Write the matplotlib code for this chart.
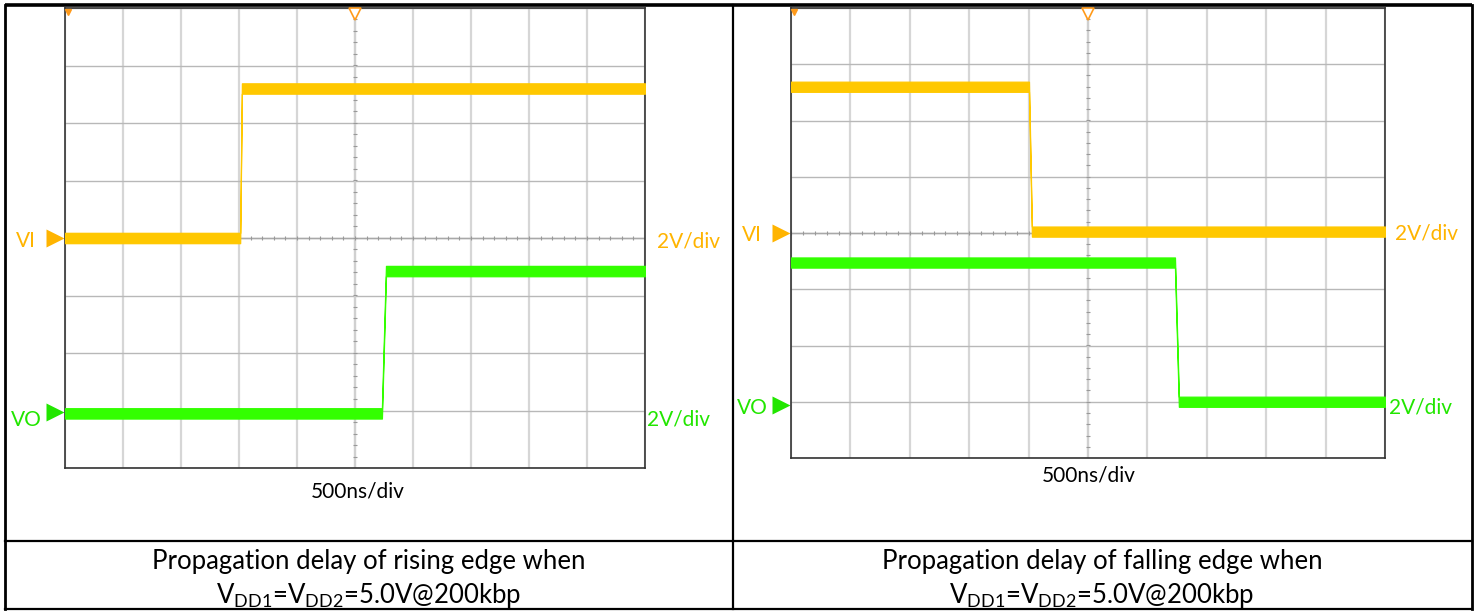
import numpy as np
import matplotlib
matplotlib.use("Agg")
import matplotlib.pyplot as plt

plt.rcParams["font.family"] = ["Lato", "DejaVu Sans"]
plt.rcParams["mathtext.fontset"] = "custom"
plt.rcParams["mathtext.rm"] = "Lato"

# --- data (time in ns, relative to screen centre; volts) ---
VOLTS_PER_DIV = 2.0
NS_PER_DIV = 500

rise_vi_t = [-2500, -990, -975, 2500]
rise_vi_v = [0.0, 0.0, 5.2, 5.2]
rise_vo_t = [-2500, 232, 267, 2500]
rise_vo_v = [-0.1, -0.1, 4.85, 4.85]

fall_vi_t = [-2500, -497, -472, 2500]
fall_vi_v = [5.2, 5.2, 0.05, 0.05]
fall_vo_t = [-2500, 732, 765, 2500]
fall_vo_v = [4.95, 4.95, 0.0, 0.0]

vi_offset_div = 0.0   # VI ground marker on centre line
vo_offset_div = -3.0  # VO ground marker three divisions down

captions = ["Propagation delay of rising edge when",
            "Propagation delay of falling edge when"]
cond_text = r"V$_\mathregular{DD1}$=V$_\mathregular{DD2}$=5.0V@200kbp"

# --- colours ---
VI_TRACE = "#FFC800"
VO_TRACE = "#33FF00"
VI_LABEL = "#FFB400"
VO_LABEL = "#22E600"
MARK_ORANGE = "#FF9A1A"

W, H = 1481, 612
fig = plt.figure(figsize=(W / 100, H / 100), dpi=100)

# background axes in pixel coordinates for the table and labels
bg = fig.add_axes([0, 0, 1, 1])
bg.set_xlim(0, W)
bg.set_ylim(H, 0)
bg.axis("off")

# table lines
bg.plot([5, 1472], [5, 5], color="black", lw=2.6, solid_capstyle="butt")
bg.plot([5, 1472], [609, 609], color="black", lw=1.6)
bg.plot([5, 5], [5, 609], color="black", lw=2.0)
bg.plot([1472, 1472], [5, 609], color="black", lw=2.0)
bg.plot([733, 733], [5, 609], color="black", lw=1.6)
bg.plot([5, 1472], [541, 541], color="black", lw=1.6)


def scope(rect_px, t_vi, v_vi, t_vo, v_vo):
    x0, y0, x1, y1 = rect_px
    ax = fig.add_axes([x0 / W, 1 - y1 / H, (x1 - x0) / W, (y1 - y0) / H])
    ax.set_xlim(-5 * NS_PER_DIV, 5 * NS_PER_DIV)
    ax.set_ylim(-4, 4)
    ax.set_xticks(np.arange(-5, 6) * NS_PER_DIV)
    ax.set_yticks(np.arange(-4, 5))
    ax.tick_params(length=0, labelbottom=False, labelleft=False)
    ax.grid(axis="x", color="#d6d6d6", lw=1.6)
    ax.grid(axis="y", color="#b8b8b8", lw=1.0)
    ax.set_axisbelow(True)
    for s in ax.spines.values():
        s.set_color("#333333")
        s.set_linewidth(1.2)

    # centre cross minor ticks
    ax.axhline(0, color="#a8a8a8", lw=1.0, zorder=1)
    ax.axvline(0, color="#d0d0d0", lw=1.6, zorder=1)
    tx = np.arange(-5, 5.01, 0.2) * NS_PER_DIV
    ax.vlines(tx, -0.04, 0.04, color="#999999", lw=0.8, zorder=1)
    ty = np.arange(-4, 4.01, 0.2)
    ax.hlines(ty, -0.04 * NS_PER_DIV, 0.04 * NS_PER_DIV, color="#999999", lw=0.8, zorder=1)

    band = 0.09
    yi = np.array(v_vi) / VOLTS_PER_DIV + vi_offset_div
    yo = np.array(v_vo) / VOLTS_PER_DIV + vo_offset_div
    ax.fill_between(t_vi, yi - band, yi + band, color=VI_TRACE, lw=0.9, zorder=3)
    ax.fill_between(t_vo, yo - band, yo + band, color=VO_TRACE, lw=0.9, zorder=3)

    # top markers
    ax.plot([-5 * NS_PER_DIV + 25], [3.93], marker="v", ms=5, color=MARK_ORANGE,
            clip_on=False, zorder=5)
    ax.plot([0], [3.9], marker="v", ms=8, mfc="white", mec=MARK_ORANGE, mew=1.2,
            clip_on=False, zorder=5)
    return ax


scope((65, 8, 645, 468), rise_vi_t, rise_vi_v, rise_vo_t, rise_vo_v)
scope((791, 8, 1385, 458), fall_vi_t, fall_vi_v, fall_vo_t, fall_vo_v)

lab = dict(ha="center", va="center", fontsize=15)

# left cell labels
bg.text(26, 241, "VI", color=VI_LABEL, **lab)
bg.plot(55, 238, marker=">", ms=13, color=VI_LABEL, mec="none")
bg.text(26, 420, "VO", color=VO_LABEL, **lab)
bg.plot(55, 412, marker=">", ms=13, color=VO_LABEL, mec="none")
bg.text(688, 241, "2V/div", color=VI_LABEL, **lab)
bg.text(679, 420, "2V/div", color=VO_LABEL, **lab)
bg.text(358, 492, "500ns/div", color="black", ha="center", va="center", fontsize=15)

# right cell labels
bg.text(752, 235, "VI", color=VI_LABEL, **lab)
bg.plot(781, 233, marker=">", ms=13, color=VI_LABEL, mec="none")
bg.text(752, 408, "VO", color=VO_LABEL, **lab)
bg.plot(781, 405, marker=">", ms=13, color=VO_LABEL, mec="none")
bg.text(1427, 234, "2V/div", color=VI_LABEL, **lab)
bg.text(1420, 408, "2V/div", color=VO_LABEL, **lab)
bg.text(1089, 475, "500ns/div", color="black", ha="center", va="center", fontsize=15)

# captions
for cx, cap in zip([369, 1102], captions):
    bg.text(cx, 561, cap, ha="center", va="center", fontsize=18.5)
    bg.text(cx, 596, cond_text, ha="center", va="center", fontsize=18.5)

fig.savefig("out.png", dpi=100)
